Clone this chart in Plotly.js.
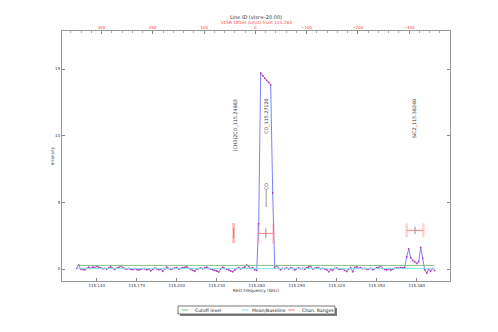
<!DOCTYPE html>
<html><head><meta charset="utf-8">
<script src="https://cdn.plot.ly/plotly-3.0.1.min.js"></script>
<style>html,body{margin:0;padding:0;background:#fff}#chart{width:498px;height:332px}</style>
</head><body><div id="chart"></div>
<script>
// ---- data ----
const chanStart = 115.1290;   // GHz, first channel
const chanWidth = 0.0015;     // GHz per channel
const intensity = [
 0.05, 0.3, 0.0, -0.02, -0.07, 0.05, 0.13, 0.05, 0.15, 0.1,
 0.22, 0.12, 0.08, 0.02, 0.05, 0.0, 0.08, 0.17, 0.05, -0.03,
 0.06, 0.12, 0.25, 0.1, 0.02, 0.0, 0.04, -0.02, -0.05, 0.03,
 -0.04, -0.07, -0.02, 0.03, 0.02, -0.05, 0.0, -0.13, -0.03, 0.07,
 0.02, -0.05, 0.0, -0.17, 0.02, 0.13, 0.05, -0.03, 0.02, 0.08,
 0.1, 0.0, 0.05, 0.1, 0.12, 0.17, 0.05, -0.02, -0.1, -0.17,
 -0.02, 0.03, 0.08, 0.02, 0.1, 0.13, 0.05, 0.0, -0.03, -0.08,
 -0.15, -0.22, 0.0, 0.13, 0.05, -0.02, -0.05, -0.15, -0.2, -0.08,
 0.03, 0.1, 0.02, 0.07, 0.15, 0.3, 0.2, 0.05, 0.1, -0.05,
 -0.1, 3.4, 14.7, 14.5, 14.3, 14.15, 14.0, 13.8, 5.7, 0.1,
 0.25, 0.05, -0.05, 0.05, 0.02, 0.08, 0.0, 0.1, 0.05, -0.07,
 0.02, 0.08, 0.03, 0.05, -0.02, 0.1, 0.15, 0.22, 0.0, 0.05,
 0.1, 0.08, 0.02, 0.05, 0.0, -0.05, -0.2, -0.05, -0.1, 0.05,
 0.08, -0.02, 0.0, 0.03, -0.1, -0.18, 0.0, 0.1, -0.2, 0.1,
 0.17, 0.05, 0.1, 0.03, 0.05, -0.02, 0.0, 0.05, -0.05, 0.03,
 0.08, 0.12, 0.22, 0.05, -0.02, -0.07, 0.02, -0.08, 0.0, 0.05,
 0.08, 0.06, 0.1, 0.08, 0.12, 0.9, 1.5, 0.85, 0.65, 0.55,
 0.42, 0.55, 1.62, 0.8, -0.05, -0.3, 0.0, -0.15, 0.05, -0.12
];
const cutoffLevel = 0.27;
const baselineLevel = 0.03;

const lineLabels = ["(CH3)2CO_115.24883", "CO_115.27120", "SiC2_115.38240"];
const lineFreqs  = [115.24883, 115.27120, 115.38240];
const chanLo = [115.2467, 115.2652, 115.3765];
const chanHi = [115.2467, 115.2765, 115.3890];
const chanLevel = [2.7, 2.67, 2.9];

const coMarkFreq = 115.2712;
const coMarkLabel = "CO";
const coMarkRange = [4.65, 5.93];

const bottomTicks = [115.144, 115.174, 115.204, 115.234, 115.264, 115.294, 115.324, 115.354, 115.384];
const refFreq = 115.263;
const cKms = 299792.458;

const legendNames = ["Cutoff level", "Mean/Baseline", "Chan. Ranges"];

// ---- derived ----
const freq = intensity.map((_, i) => +(chanStart + chanWidth * i).toFixed(4));
const fFirst = freq[0], fLast = freq[freq.length - 1];
const xRange = [115.11797, 115.40898];
const vRange = xRange.map(f => cKms * (refFreq - f) / refFreq);

const cGreen = '#7fc47f', cCyan = '#7fe6e6', cRed = '#ff7f7f';
const font = 'DejaVu Sans, sans-serif';

const traces = [];
traces.push({x: freq, y: intensity, type: 'scatter', mode: 'lines+markers',
  line: {color: '#8080ff', width: 1}, marker: {color: '#b43cb4', size: 1.8}, hoverinfo: 'skip'});
traces.push({x: [fFirst, fLast], y: [cutoffLevel, cutoffLevel], mode: 'lines',
  line: {color: cGreen, width: 1}, name: legendNames[0]});
traces.push({x: [fFirst, fLast], y: [baselineLevel, baselineLevel], mode: 'lines',
  line: {color: cCyan, width: 1}, name: legendNames[1]});

// channel ranges
const rx = [], ry = [], cx = [], cy = [], tx = [], ty = [];
const capH = [0.75, 0.75, 0.52], tickH = [0.375, 0.375, 0.28];
for (let k = 0; k < chanLo.length; k++) {
  rx.push(chanLo[k], chanHi[k], null); ry.push(chanLevel[k], chanLevel[k], null);
  [chanLo[k], chanHi[k]].forEach(f => { cx.push(f, f, null); cy.push(chanLevel[k] - capH[k], chanLevel[k] + capH[k], null); });
  const mid = (chanLo[k] + chanHi[k]) / 2;
  tx.push(mid, mid, null); ty.push(chanLevel[k] - tickH[k], chanLevel[k] + tickH[k], null);
}
traces.push({x: cx, y: cy, mode: 'lines', line: {color: 'rgba(255,110,110,0.3)', width: 2.5}});
traces.push({x: rx, y: ry, mode: 'lines', line: {color: cRed, width: 1}, name: legendNames[2]});
traces.push({x: tx, y: ty, mode: 'lines', line: {color: '#909090', width: 1}});
traces.push({x: [coMarkFreq, coMarkFreq], y: coMarkRange, mode: 'lines', line: {color: '#b8b8b8', width: 1.5}});
traces.push({x: [], y: [], xaxis: 'x2', mode: 'lines'});

// pixel helpers for the legend (plot area 62..450 x 31..281)
const PX = px => (px - 62) / 388, PY = py => (281 - py) / 250;
const shapes = [
  {type: 'rect', xref: 'paper', yref: 'paper', x0: PX(180), x1: PX(337), y0: PY(316), y1: PY(308), fillcolor: '#808080', line: {width: 0}},
  {type: 'rect', xref: 'paper', yref: 'paper', x0: PX(178), x1: PX(335), y0: PY(314), y1: PY(306), fillcolor: '#ffffff', line: {color: '#555', width: 0.8}},
  {type: 'line', xref: 'paper', yref: 'paper', x0: PX(181.5), x1: PX(188.5), y0: PY(310), y1: PY(310), line: {color: cGreen, width: 1}},
  {type: 'line', xref: 'paper', yref: 'paper', x0: PX(241.5), x1: PX(248.5), y0: PY(310), y1: PY(310), line: {color: cCyan, width: 1}},
  {type: 'line', xref: 'paper', yref: 'paper', x0: PX(288), x1: PX(295), y0: PY(310), y1: PY(310), line: {color: cRed, width: 1}}
];
const legX = [193, 250, 300];
const annotations = legendNames.map((t, k) => ({xref: 'paper', yref: 'paper', x: PX(legX[k]), y: PY(310),
  xanchor: 'left', yanchor: 'middle', text: t, showarrow: false, font: {size: 4.6, color: '#222', family: font}}));
lineLabels.forEach((t, k) => annotations.push({x: lineFreqs[k], y: 12.9, xref: 'x', yref: 'y', text: t, textangle: -90,
  xanchor: 'center', yanchor: 'top', showarrow: false, font: {size: 4.8, color: '#333', family: font}}));
annotations.push({x: coMarkFreq, y: 6.17, xref: 'x', yref: 'y', text: coMarkLabel, textangle: -90,
  xanchor: 'center', yanchor: 'middle', showarrow: false, font: {size: 4.8, color: '#333', family: font}});
annotations.push({xref: 'paper', yref: 'paper', x: 0.5, y: PY(22.6), text: 'VLSR Offset (km/s) from ' + refFreq,
  xanchor: 'center', yanchor: 'middle', showarrow: false, font: {size: 4.3, color: '#ff4040', family: font}});

const layout = {
  width: 498, height: 332, showlegend: false,
  margin: {l: 62, r: 48, t: 31, b: 51, pad: 0},
  paper_bgcolor: '#fff', plot_bgcolor: '#fff',
  font: {family: font, color: '#333'},
  title: {text: 'Line ID (vlsr=-20.00)', font: {size: 5, color: '#333', family: font},
    xref: 'paper', x: 0.5, xanchor: 'center', yref: 'container', y: 1 - 17 / 332, yanchor: 'middle'},
  xaxis: {range: xRange, tickvals: bottomTicks, ticktext: bottomTicks.map(v => v.toFixed(3)),
    ticks: 'inside', ticklen: 3, tickcolor: '#888', showline: true, linecolor: '#999', linewidth: 1,
    showgrid: false, zeroline: false, tickfont: {size: 4, color: '#333'},
    title: {text: 'Rest Frequency (GHz)', font: {size: 4.3, color: '#333'}, standoff: 1}},
  xaxis2: {overlaying: 'x', side: 'top', range: vRange, dtick: 100, tick0: 0,
    ticks: 'inside', ticklen: 3, tickcolor: '#888', showline: true, linecolor: '#999', linewidth: 1,
    minor: {dtick: 20, ticks: 'inside', ticklen: 2, tickcolor: '#aaa'}, ticklabelstandoff: -1,
    showgrid: false, zeroline: false, tickfont: {size: 4, color: '#ff4040'}},
  yaxis: {range: [-0.9, 17.85], tickvals: [0, 5, 10, 15], ticks: 'inside', ticklen: 3, tickcolor: '#888',
    showline: true, linecolor: '#999', linewidth: 1, mirror: 'ticks', showgrid: false, zeroline: false,
    tickfont: {size: 4, color: '#333'}, title: {text: 'Intensity', font: {size: 4.2, color: '#333'}, standoff: 0}},
  shapes: shapes, annotations: annotations
};
Plotly.newPlot('chart', traces, layout, {displayModeBar: false, staticPlot: true});
</script></body></html>
